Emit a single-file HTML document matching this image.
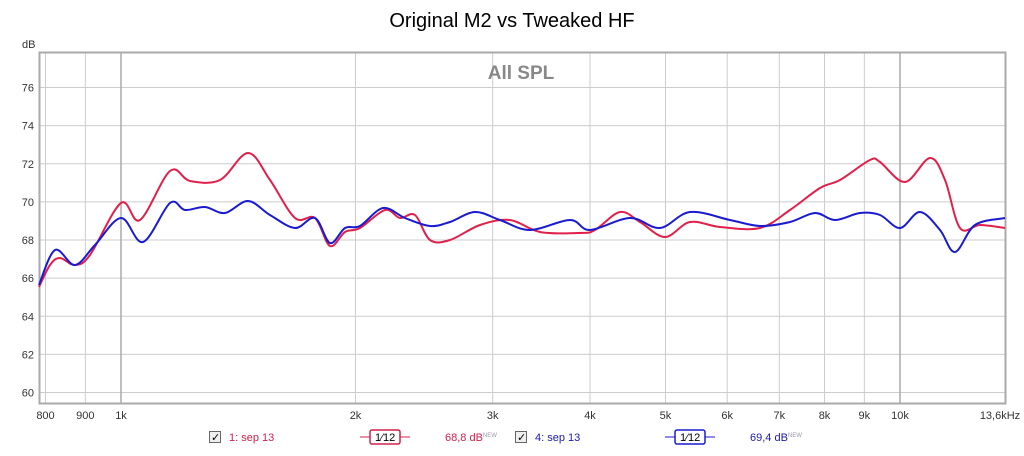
<!DOCTYPE html><html><head><style>
body{margin:0;width:1024px;height:451px;background:#fff;font-family:"Liberation Sans",sans-serif;overflow:hidden}
</style></head><body>
<svg id="s" width="1024" height="451" xmlns="http://www.w3.org/2000/svg" font-family="Liberation Sans, sans-serif">
<text x="512" y="27" font-size="20" text-anchor="middle" fill="#000">Original M2 vs Tweaked HF</text>
<text x="22" y="48" font-size="11" fill="#333">dB</text>
<g id="grid"></g>
<rect x="39.5" y="52.5" width="966" height="351" fill="none" stroke="#aaa" stroke-width="2"/>
<text x="521" y="79" font-size="19" font-weight="bold" text-anchor="middle" fill="#888">All SPL</text>
<path id="red" fill="none" stroke="#e0204a" stroke-width="2"/>
<path id="blue" fill="none" stroke="#1a1ad0" stroke-width="2"/>
<g font-size="11">
<rect x="209.5" y="431.5" width="11" height="11" fill="#eee" stroke="#666"/><text x="211" y="441" font-size="11">✓</text>
<text x="229" y="441" fill="#d0204a">1: sep 13</text>
<line x1="360" y1="437" x2="410" y2="437" stroke="#d0204a"/><rect x="370" y="430" width="30" height="14" rx="2" fill="#fff" stroke="#d0204a" stroke-width="1.5"/><text x="375" y="441" fill="#000" font-size="11">1⁄12</text>
<text x="445" y="441" fill="#d0204a">68,8 dB<tspan font-size="6" dy="-4" fill="#99a">NEW</tspan></text>
<rect x="515.5" y="431.5" width="11" height="11" fill="#eee" stroke="#666"/><text x="517" y="441">✓</text>
<text x="535" y="441" fill="#1a1ab0">4: sep 13</text>
<line x1="665" y1="437" x2="715" y2="437" stroke="#1a1ad0"/><rect x="675" y="430" width="30" height="14" rx="2" fill="#fff" stroke="#1a1ad0" stroke-width="1.5"/><text x="680" y="441" fill="#000" font-size="11">1⁄12</text>
<text x="750" y="441" fill="#1a1ab0">69,4 dB<tspan font-size="6" dy="-4" fill="#99a">NEW</tspan></text>
</g>
</svg>
<script>
var NS="http://www.w3.org/2000/svg",g=document.getElementById('grid');
function X(f){return 121+779*Math.log10(f/1000);}
function Y(v){return 392.5-(v-60)*19.06;}
function el(t,a,txt){var e=document.createElementNS(NS,t);for(var k in a)e.setAttribute(k,a[k]);if(txt)e.textContent=txt;g.appendChild(e);}
for(var v=60;v<=76;v+=2){var y=Y(v);el('line',{x1:39,x2:1005,y1:y,y2:y,stroke:'#ccc'});el('text',{x:34,y:y+4,'font-size':11,'text-anchor':'end',fill:'#333'},''+v);}
var fs=[800,900,1000,2000,3000,4000,5000,6000,7000,8000,9000,10000];
fs.forEach(function(f){var x=X(f),d=(f==1000||f==10000);el('line',{x1:x,x2:x,y1:52,y2:404,stroke:d?'#aaa':'#ccc','stroke-width':d?1.5:1});
var l=f<1000?''+f:(f/1000)+'k';el('text',{x:x,y:419,'font-size':11,'text-anchor':'middle',fill:'#333'},l);});
el('text',{x:1000,y:419,'font-size':11,'text-anchor':'middle',fill:'#333'},'13,6kHz');
function path(p){var d='M'+p[0][0]+','+p[0][1];for(var i=0;i<p.length-1;i++){var p0=p[i-1]||p[i],p1=p[i],p2=p[i+1],p3=p[i+2]||p2;
d+=' C'+(p1[0]+(p2[0]-p0[0])/6)+','+(p1[1]+(p2[1]-p0[1])/6)+' '+(p2[0]-(p3[0]-p1[0])/6)+','+(p2[1]-(p3[1]-p1[1])/6)+' '+p2[0]+','+p2[1];}return d;}
var red=[[39,287],[50,265],[60,258],[75,265],[90,255],[121,203],[140,220],[170,171],[190,181],[220,180],[248,153],[270,180],[295,218],[315,218],[330,246],[345,232],[360,228],[385,210],[400,218],[415,215],[430,240],[450,240],[480,225],[510,220],[540,232],[580,233],[595,230],[620,212],[640,222],[665,237],[690,222],[720,227],[760,228],[790,210],[820,188],[840,180],[870,160],[880,162],[905,182],[930,158],[945,180],[960,228],[980,225],[1005,228]];
var blue=[[39,285],[55,250],[75,265],[95,245],[121,218],[143,242],[170,203],[185,210],[205,207],[225,213],[248,201],[270,215],[295,228],[315,218],[330,243],[345,228],[360,226],[383,208],[405,218],[430,226],[450,222],[475,212],[500,220],[530,230],[570,220],[590,230],[630,218],[660,228],[690,212],[730,220],[760,226],[790,222],[815,213],[835,220],[860,213],[880,215],[900,228],[920,212],[940,230],[955,252],[975,225],[1005,218]];
document.getElementById('red').setAttribute('d',path(red));
document.getElementById('blue').setAttribute('d',path(blue));
</script>
</body></html>
